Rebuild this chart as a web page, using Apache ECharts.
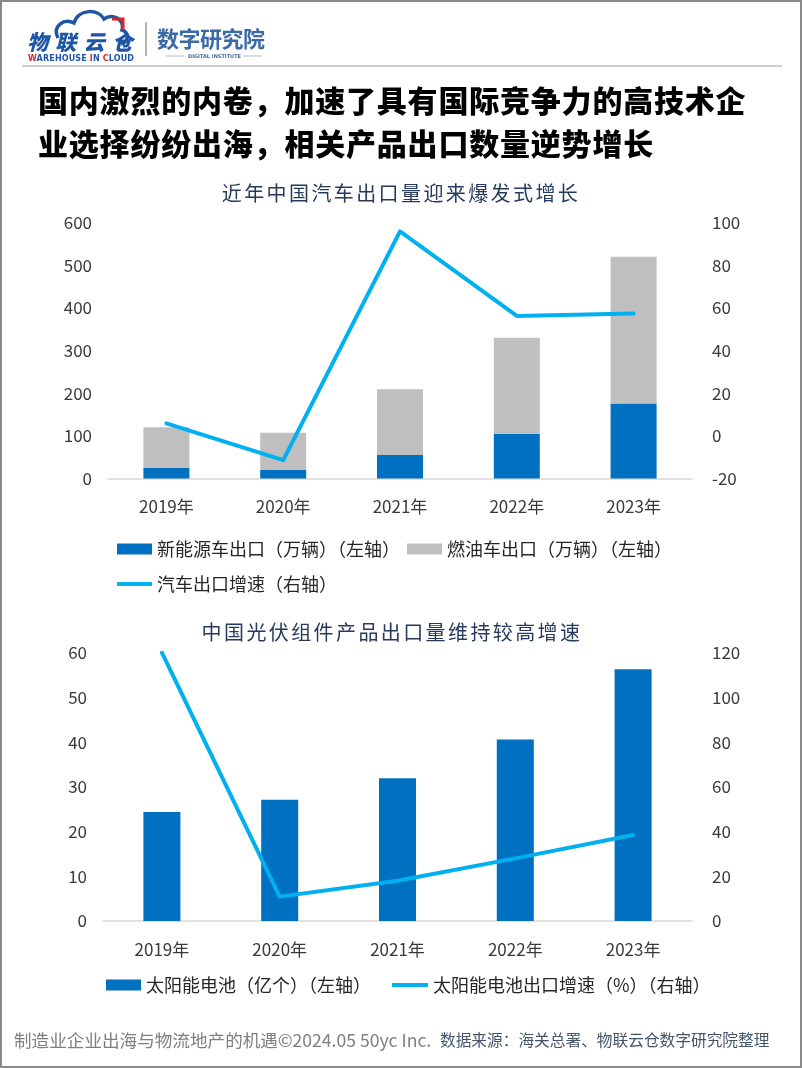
<!DOCTYPE html>
<html>
<head>
<meta charset="utf-8">
<script src="https://cdn.jsdelivr.net/npm/echarts@6/dist/echarts.min.js"></script>
<style>
  html, body { margin:0; padding:0; background:#fff; }
  #page { position:relative; width:802px; height:1068px; overflow:hidden; background:#fff;
          font-family:"Noto Sans CJK SC","Noto Sans",sans-serif; }
  #frame { position:absolute; left:0; top:0; width:798px; height:1064px; border:2px solid #8a8a8a; pointer-events:none; z-index:5; }
  #chart { position:absolute; left:0; top:0; width:802px; height:1068px; }
  .abs { position:absolute; white-space:nowrap; z-index:3; }
  #title { left:38px; top:78px; font-size:30px; line-height:43px; font-weight:900; color:#000; letter-spacing:0.8px; }
  .sub { font-size:20px; color:#263A5E; letter-spacing:2.4px; left:0; width:802px; text-align:center; }
  #foot1 { left:14px; top:1027px; font-size:17.6px; color:#7f7f7f; }
  #foot2 { left:440px; top:1028px; font-size:15.7px; color:#44546A; }
</style>
</head>
<body>
<div id="page">
  <div id="chart"></div>
  <div id="frame"></div>
  <!-- logo -->
  <svg class="abs" style="left:0;top:0" width="802" height="70">
    <path d="M58 38 C52 26 64 18 74 23 C78 9 98 8 104 19 C112 13 125 19 122 30 C129 32 129 42 121 44"
          fill="none" stroke="#1d56a5" stroke-width="3.5"/>
    <path d="M112 19 L123 19 L123 30" fill="none" stroke="#d9262b" stroke-width="3"/>
    <text x="27" y="50" font-size="21" font-weight="900" fill="#1d56a5" font-family="Noto Sans CJK SC" font-style="italic" textLength="106">物联云仓</text>
    <text x="28" y="61" font-size="8" font-weight="700" fill="#1d56a5" font-family="DejaVu Sans" textLength="106"><tspan fill="#d9262b">W</tspan>AREHOUSE <tspan fill="#d9262b">I</tspan>N <tspan fill="#d9262b">C</tspan>LOUD</text>
    <line x1="146" y1="22" x2="146" y2="56" stroke="#9a9a9a" stroke-width="1.5"/>
    <text x="157" y="47" font-size="22" font-weight="700" fill="#3a6aa6" font-family="Noto Sans CJK SC" textLength="108">数字研究院</text>
    <line x1="166" y1="56" x2="184" y2="56" stroke="#9aa8bd" stroke-width="0.8"/>
    <text x="188" y="58" font-size="5" fill="#4a6a96" font-family="DejaVu Sans" font-weight="700">DIGITAL INSTITUTE</text>
    <line x1="243" y1="56" x2="262" y2="56" stroke="#9aa8bd" stroke-width="0.8"/>
    <line x1="22" y1="66" x2="782" y2="66" stroke="#cfcfcf" stroke-width="2"/>
  </svg>
  <div id="title" class="abs">国内激烈的内卷，加速了具有国际竞争力的高技术企<br>业选择纷纷出海，相关产品出口数量逆势增长</div>
  <div class="abs sub" style="top:178px">近年中国汽车出口量迎来爆发式增长</div>
  <div class="abs sub" style="top:617px;left:-9px">中国光伏组件产品出口量维持较高增速</div>
  <div id="foot1" class="abs">制造业企业出海与物流地产的机遇©2024.05 50yc Inc.</div>
  <div id="foot2" class="abs">数据来源：海关总署、物联云仓数字研究院整理</div>
</div>
<script>
// ---- data ----
const years = ['2019年', '2020年', '2021年', '2022年', '2023年'];
const nevExport = [25, 20, 55, 105, 176];          // 新能源车出口（万辆）
const fuelExport = [95, 87, 154, 225, 344];        // 燃油车出口（万辆）
const carGrowth = [5.8, -11.4, 95.8, 56.2, 57.3];  // 汽车出口增速 (%)
const solarCells = [24.4, 27.1, 31.9, 40.6, 56.3]; // 太阳能电池（亿个）
const solarGrowth = [120, 10.9, 18, 28, 38.5];     // 太阳能电池出口增速 (%)

const nameNev = '新能源车出口（万辆）（左轴）';
const nameFuel = '燃油车出口（万辆）（左轴）';
const nameCarG = '汽车出口增速（右轴）';
const nameSolar = '太阳能电池（亿个）（左轴）';
const nameSolarG = '太阳能电池出口增速（%）（右轴）';

const FONT = '"Noto Sans CJK SC", "Noto Sans", sans-serif';
const BLUE = '#0070C0', GRAY = '#BFBFBF', LBLUE = '#00B0F0';
const labelStyle = { fontSize: 17, color: '#3a3a3a', fontFamily: FONT };

const chart = echarts.init(document.getElementById('chart'), null, { renderer: 'canvas' });

function xAx(grid) {
  return {
    type: 'category', gridIndex: grid, data: years,
    axisLine: { show: true, lineStyle: { color: '#D9D9D9', width: 1.5 } },
    axisTick: { show: false },
    axisLabel: Object.assign({ margin: 20 }, labelStyle)
  };
}
function yAx(grid, min, max, interval, right) {
  return {
    type: 'value', gridIndex: grid, min: min, max: max, interval: interval,
    position: right ? 'right' : 'left',
    splitLine: { show: false }, axisLine: { show: false }, axisTick: { show: false },
    axisLabel: Object.assign({ margin: right ? 20 : 16 }, labelStyle)
  };
}
const legendText = { fontSize: 18, color: '#262626', fontFamily: FONT };

chart.setOption({
  animation: false,
  textStyle: { fontFamily: FONT },
  grid: [
    { left: 108, right: 110, top: 222.5, height: 256 },
    { left: 103, right: 110, top: 652.7, height: 268.3 }
  ],
  xAxis: [xAx(0), xAx(1)],
  yAxis: [
    yAx(0, 0, 600, 100, false),
    yAx(0, -20, 100, 20, true),
    yAx(1, 0, 60, 10, false),
    yAx(1, 0, 120, 20, true)
  ],
  legend: [
    { data: [nameNev, nameFuel], left: 117, top: 540, padding: 0, itemWidth: 35, itemHeight: 11,
      itemGap: 7, icon: 'rect', textStyle: legendText, selectedMode: false },
    { data: [nameCarG], left: 117, top: 575, padding: 0, itemWidth: 35, itemHeight: 4,
      icon: 'rect', textStyle: legendText, selectedMode: false },
    { data: [nameSolar], left: 106, top: 976, padding: 0, itemWidth: 35, itemHeight: 11,
      icon: 'rect', textStyle: legendText, selectedMode: false },
    { data: [nameSolarG], left: 392, top: 976, padding: 0, itemWidth: 36, itemHeight: 4,
      icon: 'rect', textStyle: legendText, selectedMode: false }
  ],
  series: [
    { name: nameNev, type: 'bar', stack: 'car', xAxisIndex: 0, yAxisIndex: 0, data: nevExport,
      barWidth: 46, itemStyle: { color: BLUE } },
    { name: nameFuel, type: 'bar', stack: 'car', xAxisIndex: 0, yAxisIndex: 0, data: fuelExport,
      barWidth: 46, itemStyle: { color: GRAY } },
    { name: nameCarG, type: 'line', xAxisIndex: 0, yAxisIndex: 1, data: carGrowth, symbol: 'none',
      lineStyle: { color: LBLUE, width: 4, cap: 'round', join: 'round' }, itemStyle: { color: LBLUE }, z: 5 },
    { name: nameSolar, type: 'bar', xAxisIndex: 1, yAxisIndex: 2, data: solarCells,
      barWidth: 37, itemStyle: { color: BLUE } },
    { name: nameSolarG, type: 'line', xAxisIndex: 1, yAxisIndex: 3, data: solarGrowth, symbol: 'none',
      lineStyle: { color: LBLUE, width: 4, cap: 'round', join: 'round' }, itemStyle: { color: LBLUE }, z: 5 }
  ]
});
</script>
</body>
</html>
